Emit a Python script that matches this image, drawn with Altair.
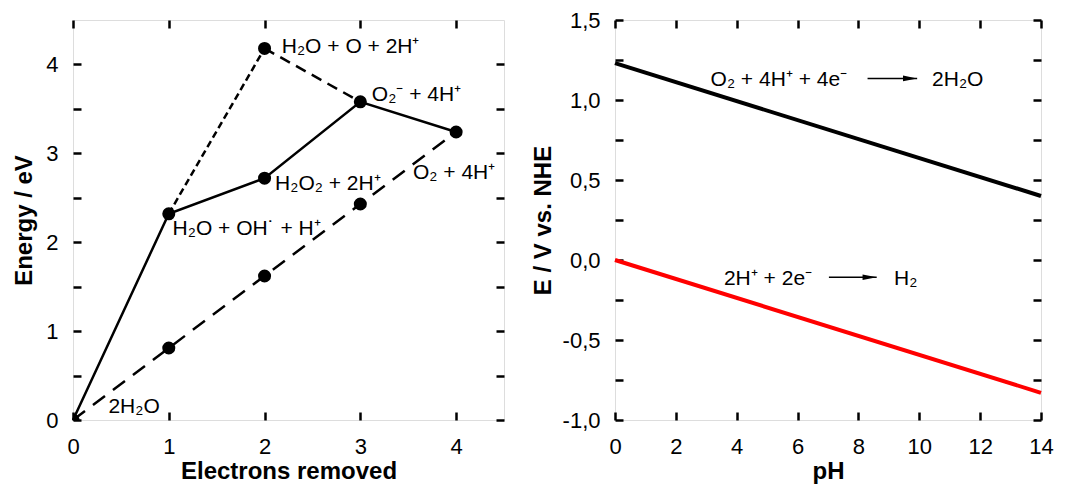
import altair as alt
import pandas as pd

FONT = "Liberation Sans"

# ---------------- left panel data ----------------
solid_x = [0, 1, 2, 3, 4]
solid_y = [0.0, 2.32, 2.72, 3.58, 3.24]
short_dash_x = [1, 2]
short_dash_y = [2.32, 4.18]
long_dash_x = [2, 3]
long_dash_y = [4.18, 3.58]
dashdot_x = [0, 1, 2, 3, 4]
dashdot_y = [0.0, 0.81, 1.62, 2.43, 3.24]
point_x = [0, 1, 2, 2, 3, 4, 1, 2, 3]
point_y = [0.0, 2.32, 4.18, 2.72, 3.58, 3.24, 0.81, 1.62, 2.43]
label_text = ["H₂O + O + 2H⁺", "O₂⁻ + 4H⁺", "H₂O₂ + 2H⁺", "O₂ + 4H⁺",
              "H₂O + OH˙ + H⁺", "2H₂O"]
label_x = [2.18, 3.12, 2.11, 3.55, 1.04, 0.37]
label_y = [4.2, 3.66, 2.65, 2.78, 2.15, 0.15]
left_xticks = [0, 1, 2, 3, 4]
left_yticks = [0, 0.5, 1, 1.5, 2, 2.5, 3, 3.5, 4]

# ---------------- right panel data ----------------
ph = [0, 14]
o2_E = [1.23, 0.40]
h2_E = [0.0, -0.83]
eq_text = ["O₂ + 4H⁺ + 4e⁻", "2H₂O", "2H⁺ + 2e⁻", "H₂"]
eq_x = [3.14, 10.42, 3.58, 9.17]
eq_y = [1.125, 1.125, -0.117, -0.117]
arrow_x1 = [8.3, 7.03]
arrow_x2 = [9.93, 8.6]
arrow_y = [1.135, -0.108]
right_xticks = [0, 2, 4, 6, 8, 10, 12, 14]
right_yticks = [-1.0, -0.75, -0.5, -0.25, 0.0, 0.25, 0.5, 0.75, 1.0, 1.25, 1.5]

W_L, W_R, H = 431, 426, 400


def axis_main(title, values, orient, label_expr=None, title_pad=2):
    kw = dict(title=title, values=values, orient=orient, offset=-8, tickSize=8,
              tickWidth=2.5, tickColor="black", domain=False, grid=False,
              labelFont=FONT, labelFontSize=22, labelColor="black",
              labelFlush=False, labelOverlap=False, labelPadding=15,
              titleFont=FONT, titleFontSize=24, titleFontWeight="bold",
              titleColor="black", titlePadding=title_pad, minExtent=0)
    if label_expr:
        kw["labelExpr"] = label_expr
    if orient == "bottom":
        kw["labelPadding"] = 16
    return alt.Axis(**kw)


def axis_mirror(values, orient):
    return alt.Axis(title=None, values=values, orient=orient, offset=-8, tickSize=8,
                    tickWidth=2.5, tickColor="black", domain=False, grid=False,
                    labels=False, minExtent=0, maxExtent=0)


# ---------------- left panel ----------------
xs_l = alt.Scale(domain=[0, 4.5], nice=False)
ys_l = alt.Scale(domain=[0, 4.5], nice=False)

df_solid = pd.DataFrame({"x": solid_x, "y": solid_y})
df_sd = pd.DataFrame({"x": short_dash_x, "y": short_dash_y})
df_ld = pd.DataFrame({"x": long_dash_x, "y": long_dash_y})
df_dd = pd.DataFrame({"x": dashdot_x, "y": dashdot_y})
df_pts = pd.DataFrame({"x": point_x, "y": point_y})
df_lab = pd.DataFrame({"x": label_x, "y": label_y, "t": label_text})

int_expr = "datum.value % 1 == 0 ? format(datum.value, 'd') : ''"

l_axes_main = alt.Chart(df_solid).mark_line(color="black", strokeWidth=2.5).encode(
    x=alt.X("x:Q", scale=xs_l, axis=axis_main("Electrons removed", left_xticks, "bottom")),
    y=alt.Y("y:Q", scale=ys_l, axis=axis_main("Energy / eV", left_yticks, "left", int_expr, 9)),
)
l_axes_mirror = alt.Chart(df_sd).mark_line(color="black", strokeWidth=2.5, strokeDash=[7, 4]).encode(
    x=alt.X("x:Q", scale=xs_l, axis=axis_mirror(left_xticks, "top")),
    y=alt.Y("y:Q", scale=ys_l, axis=axis_mirror(left_yticks, "right")),
)
l_ld = alt.Chart(df_ld).mark_line(color="black", strokeWidth=2.5, strokeDash=[11, 7]).encode(
    x=alt.X("x:Q", scale=xs_l, axis=None), y=alt.Y("y:Q", scale=ys_l, axis=None))
l_dd = alt.Chart(df_dd).mark_line(color="black", strokeWidth=2.5, strokeDash=[15, 10]).encode(
    x=alt.X("x:Q", scale=xs_l, axis=None), y=alt.Y("y:Q", scale=ys_l, axis=None))
l_pts = alt.Chart(df_pts).mark_point(filled=True, color="black", size=170, opacity=1, clip=True).encode(
    x=alt.X("x:Q", scale=xs_l, axis=None), y=alt.Y("y:Q", scale=ys_l, axis=None))
l_txt = alt.Chart(df_lab).mark_text(align="left", baseline="middle", font=FONT, fontSize=21,
                                     color="black").encode(
    x=alt.X("x:Q", scale=xs_l, axis=None), y=alt.Y("y:Q", scale=ys_l, axis=None), text="t:N")

left = alt.layer(l_axes_main, l_axes_mirror, l_ld, l_dd, l_pts, l_txt).resolve_axis(
    x="independent", y="independent").properties(width=W_L, height=H)

# ---------------- right panel ----------------
xs_r = alt.Scale(domain=[0, 14], nice=False)
ys_r = alt.Scale(domain=[-1.0, 1.5], nice=False)

df_o2 = pd.DataFrame({"x": ph, "y": o2_E})
df_h2 = pd.DataFrame({"x": ph, "y": h2_E})
df_eq = pd.DataFrame({"x": eq_x, "y": eq_y, "t": eq_text})
df_arr = pd.DataFrame({"x": arrow_x1, "x2": arrow_x2, "y": arrow_y})

half_expr = ("datum.value % 0.5 == 0 ? replace(replace(format(datum.value, '.1f'), '.', ','), "
             "'\u2212', '-') : ''")

r_o2 = alt.Chart(df_o2).mark_line(color="black", strokeWidth=4).encode(
    x=alt.X("x:Q", scale=xs_r, axis=axis_main("pH", right_xticks, "bottom")),
    y=alt.Y("y:Q", scale=ys_r, axis=axis_main("E / V vs. NHE", right_yticks, "left", half_expr, 7)),
)
r_h2 = alt.Chart(df_h2).mark_line(color="#ff0000", strokeWidth=4).encode(
    x=alt.X("x:Q", scale=xs_r, axis=axis_mirror(right_xticks, "top")),
    y=alt.Y("y:Q", scale=ys_r, axis=axis_mirror(right_yticks, "right")),
)
r_txt = alt.Chart(df_eq).mark_text(align="left", baseline="middle", font=FONT, fontSize=21,
                                    color="black").encode(
    x=alt.X("x:Q", scale=xs_r, axis=None), y=alt.Y("y:Q", scale=ys_r, axis=None), text="t:N")
r_arr = alt.Chart(df_arr).mark_rule(color="black", strokeWidth=1.5).encode(
    x=alt.X("x:Q", scale=xs_r, axis=None), x2="x2:Q", y=alt.Y("y:Q", scale=ys_r, axis=None))
r_head = alt.Chart(df_arr).mark_point(filled=True, color="black", opacity=1, size=200,
                                      shape="M -2 -0.4 L 0 0 L -2 0.4 Z").encode(
    x=alt.X("x2:Q", scale=xs_r, axis=None), y=alt.Y("y:Q", scale=ys_r, axis=None))

right = alt.layer(r_o2, r_h2, r_txt, r_arr, r_head).resolve_axis(
    x="independent", y="independent").properties(width=W_R, height=H)

chart = alt.hconcat(left, right, spacing=24).properties(
    padding={"left": 4, "top": 0, "right": 0, "bottom": 0}).configure_view(
    stroke="black", strokeWidth=2.5).configure(background="white")

chart.save("out.html", embed_options={"renderer": "svg", "actions": False})
